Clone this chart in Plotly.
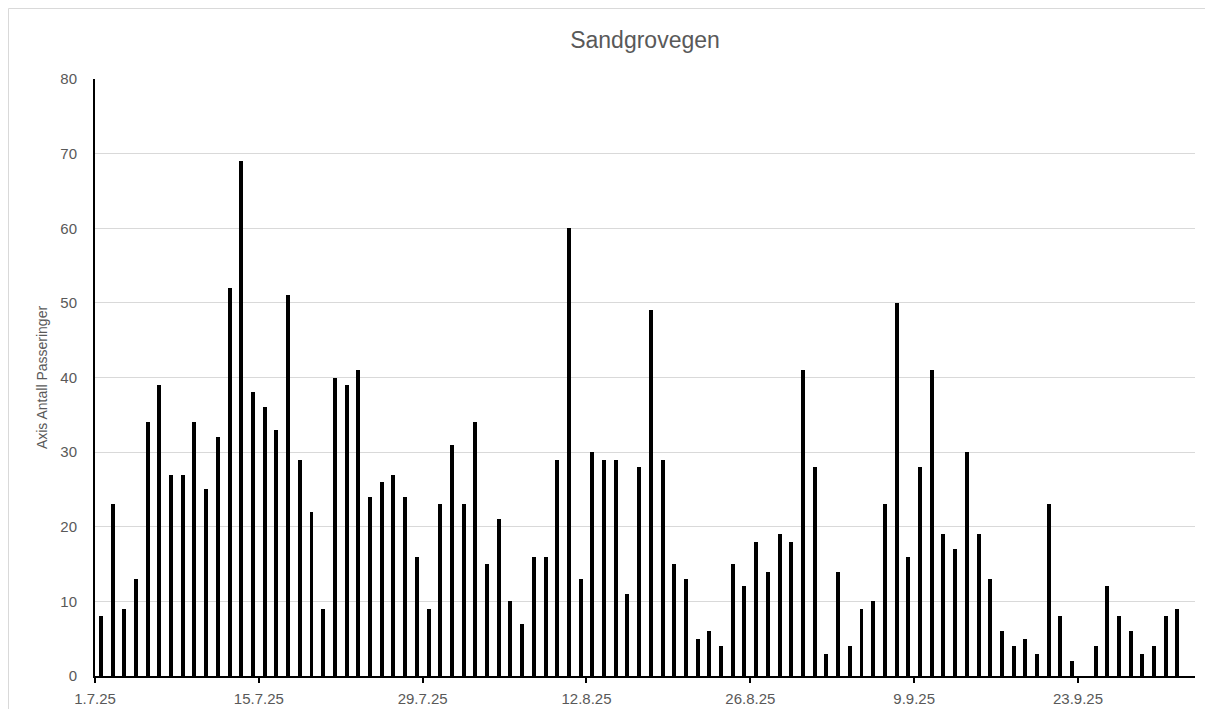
import plotly.graph_objects as go

# Daily counts, 1 Jul 2025 .. 1 Oct 2025 (one value per day)
start_date = "2025-07-01"
dates = [
    "2025-07-01", "2025-07-02", "2025-07-03", "2025-07-04", "2025-07-05", "2025-07-06", "2025-07-07",
    "2025-07-08", "2025-07-09", "2025-07-10", "2025-07-11", "2025-07-12", "2025-07-13", "2025-07-14",
    "2025-07-15", "2025-07-16", "2025-07-17", "2025-07-18", "2025-07-19", "2025-07-20", "2025-07-21",
    "2025-07-22", "2025-07-23", "2025-07-24", "2025-07-25", "2025-07-26", "2025-07-27", "2025-07-28",
    "2025-07-29", "2025-07-30", "2025-07-31", "2025-08-01", "2025-08-02", "2025-08-03", "2025-08-04",
    "2025-08-05", "2025-08-06", "2025-08-07", "2025-08-08", "2025-08-09", "2025-08-10", "2025-08-11",
    "2025-08-12", "2025-08-13", "2025-08-14", "2025-08-15", "2025-08-16", "2025-08-17", "2025-08-18",
    "2025-08-19", "2025-08-20", "2025-08-21", "2025-08-22", "2025-08-23", "2025-08-24", "2025-08-25",
    "2025-08-26", "2025-08-27", "2025-08-28", "2025-08-29", "2025-08-30", "2025-08-31", "2025-09-01",
    "2025-09-02", "2025-09-03", "2025-09-04", "2025-09-05", "2025-09-06", "2025-09-07", "2025-09-08",
    "2025-09-09", "2025-09-10", "2025-09-11", "2025-09-12", "2025-09-13", "2025-09-14", "2025-09-15",
    "2025-09-16", "2025-09-17", "2025-09-18", "2025-09-19", "2025-09-20", "2025-09-21", "2025-09-22",
    "2025-09-23", "2025-09-24", "2025-09-25", "2025-09-26", "2025-09-27", "2025-09-28", "2025-09-29",
    "2025-09-30", "2025-10-01",
]
passeringer = [
    8, 23, 9, 13, 34, 39, 27,
    27, 34, 25, 32, 52, 69, 38,
    36, 33, 51, 29, 22, 9, 40,
    39, 41, 24, 26, 27, 24, 16,
    9, 23, 31, 23, 34, 15, 21,
    10, 7, 16, 16, 29, 60, 13,
    30, 29, 29, 11, 28, 49, 29,
    15, 13, 5, 6, 4, 15, 12,
    18, 14, 19, 18, 41, 28, 3,
    14, 4, 9, 10, 23, 50, 16,
    28, 41, 19, 17, 30, 19, 13,
    6, 4, 5, 3, 23, 8, 2,
    0, 4, 12, 8, 6, 3, 4,
    8, 9,
]
x_range = ["2025-07-01", "2025-10-03"]
y_ticks = [0, 10, 20, 30, 40, 50, 60, 70, 80]

title_text = "Sandgrovegen"
y_title = "Axis Antall Passeringer"

DAY_MS = 86400000
FONT = "Liberation Sans"
GREY = "#595959"

# page body has an 8px default margin on every side -> keep the figure
# 16px smaller than the window
W, H = 1197, 701
L, R, T, B = 87, 10, 71, 33
PW = W - L - R
PH = H - T - B

fig = go.Figure(
    go.Bar(
        x=dates,
        y=passeringer,
        xperiod=DAY_MS,
        xperiod0=start_date,
        xperiodalignment="middle",
        width=0.34 * DAY_MS,
        marker=dict(color="#000000", line=dict(width=0)),
        hovertemplate="%{x|%-d.%-m.%y}: %{y}<extra></extra>",
    )
)

fig.update_layout(
    width=W,
    height=H,
    margin=dict(l=L, r=R, t=T, b=B, autoexpand=False),
    paper_bgcolor="#ffffff",
    plot_bgcolor="#ffffff",
    showlegend=False,
    font=dict(family=FONT, color=GREY, size=15),
    title=dict(
        text=title_text,
        x=0.5, xanchor="center", xref="paper",
        y=1 - 32 / H, yanchor="middle", yref="container",
        font=dict(family=FONT, size=23, color=GREY),
    ),
    xaxis=dict(
        type="date",
        range=x_range,
        tick0=start_date,
        dtick=14 * DAY_MS,
        tickformat="%-d.%-m.%y",
        ticks="outside",
        ticklen=5,
        tickcolor="#000000",
        tickwidth=1.5,
        showline=True,
        linecolor="#000000",
        linewidth=1.5,
        showgrid=False,
        zeroline=False,
        automargin=False,
        tickfont=dict(family=FONT, size=15, color=GREY),
        ticklabelstandoff=3,
    ),
    yaxis=dict(
        range=[0, 80],
        tickvals=y_ticks,
        showgrid=True,
        gridcolor="#D9D9D9",
        gridwidth=1,
        showline=True,
        linecolor="#000000",
        linewidth=2,
        zeroline=False,
        ticks="",
        automargin=False,
        tickfont=dict(family=FONT, size=15, color=GREY),
        ticklabelstandoff=13,
        title=dict(text=y_title, font=dict(family=FONT, size=14, color=GREY), standoff=9),
    ),
    bargap=0,
)

# outer chart frame: only its top and left edges fall inside the window
frame_left = -(L - 0.5) / PW
frame_top = 1 + (T - 0.5) / PH
fig.add_shape(
    type="line", xref="paper", yref="paper",
    x0=frame_left, x1=1 + R / PW, y0=frame_top, y1=frame_top,
    line=dict(color="#D9D9D9", width=1), layer="below",
)
fig.add_shape(
    type="line", xref="paper", yref="paper",
    x0=frame_left, x1=frame_left, y0=-B / PH, y1=frame_top,
    line=dict(color="#D9D9D9", width=1), layer="below",
)

fig.write_html("out.html")
